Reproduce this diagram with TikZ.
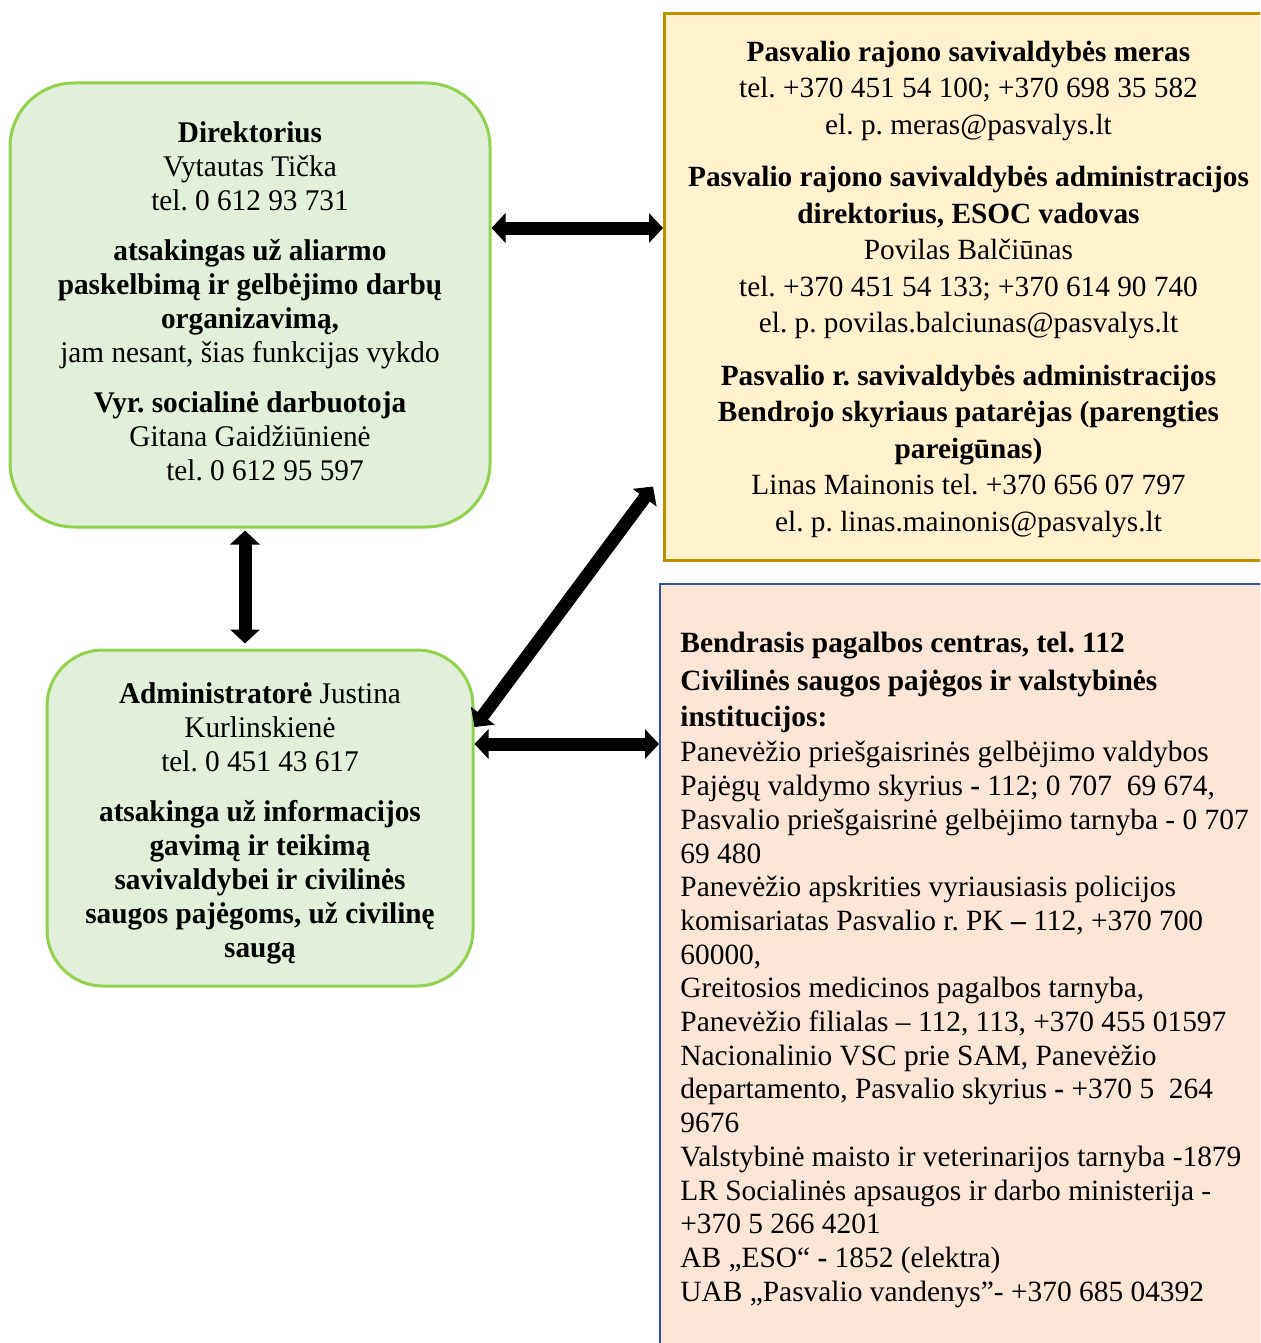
\documentclass[tikz,border=0pt]{standalone}
\usepackage{fontspec}
\setmainfont{Liberation Serif}
\newfontfamily\leftfont[FakeStretch=0.975]{Liberation Serif}
\usetikzlibrary{arrows.meta, calc}
\frenchspacing
\definecolor{greenfill}{HTML}{E2EFDA}
\definecolor{greenline}{HTML}{92D050}
\definecolor{yellowfill}{HTML}{FFF2CC}
\definecolor{yellowline}{HTML}{BF9000}
\definecolor{pinkfill}{HTML}{FBE5D6}
\definecolor{blueline}{HTML}{2F5597}
\tikzset{
  greenbox/.style={draw=greenline, fill=greenfill, line width=1.5pt, inner sep=0pt},
  yellowbox/.style={draw=yellowline, fill=yellowfill, line width=1.5pt, inner sep=0pt},
  pinkbox/.style={draw=blueline, fill=pinkfill, line width=1pt, inner sep=0pt},
  lefttext/.style={align=center, inner sep=0pt, font=\leftfont\fontsize{15}{17}\selectfont},
  righttext/.style={align=center, inner sep=0pt, font=\fontsize{14.65}{18.25}\selectfont},
  bigarrow/.style={line width=6.5pt,
    {Triangle[length=7pt,width=14.5pt]}-{Triangle[length=7pt,width=14.5pt]}},
}

\begin{document}
\begin{tikzpicture}[x=0.5pt, y=-0.5pt]
    \useasboundingbox (0,0) rectangle (1260,1343);
    \clip (0,0) rectangle (1260,1343);
    \node[greenbox, rounded corners=32pt, minimum width=240pt, minimum height=222pt] (dir) at (250,305) {};
    \node[greenbox, rounded corners=28pt, minimum width=213pt, minimum height=168pt] (adm) at (260,818) {};
    \node[yellowbox, minimum width=304pt, minimum height=273.5pt, anchor=north west] (mer) at (663,12) {};
    \node[pinkbox, minimum width=320pt, minimum height=420pt, anchor=north west] (bpc) at (659,583) {};
    \node[lefttext] (dirtext) at ([yshift=2pt]dir.center)
      {\textbf{Direktorius}\\ Vytautas Tička\\ tel. 0 612 93 731\\[8pt]
       \textbf{atsakingas už aliarmo}\\ \textbf{paskelbimą ir gelbėjimo darbų}\\ \textbf{organizavimą,}\\
       jam nesant, šias funkcijas vykdo\\[8pt]
       \textbf{Vyr. socialinė darbuotoja}\\ Gitana Gaidžiūnienė\\ \hspace*{15pt}tel. 0 612 95 597};
    \node[lefttext] (admtext) at ([yshift=-2.75pt]adm.center)
      {\textbf{Administratorė} Justina\\ Kurlinskienė\\ tel. 0 451 43 617\\[8pt]
       \textbf{atsakinga už informacijos}\\ \textbf{gavimą ir teikimą}\\ \textbf{savivaldybei ir civilinės}\\
       \textbf{saugos pajėgoms, už civilinę}\\ \textbf{saugą}};
    \node[righttext] (mertext) at ([yshift=-1pt]mer.center)
      {\textbf{Pasvalio rajono savivaldybės meras}\\ tel. +370 451 54 100; +370 698 35 582\\
       el. p. meras@pasvalys.lt\\[8pt]
       \textbf{Pasvalio rajono savivaldybės administracijos}\\ \textbf{direktorius, ESOC vadovas}\\
       Povilas Balčiūnas\\ tel. +370 451 54 133; +370 614 90 740\\ el. p. povilas.balciunas@pasvalys.lt\\[8pt]
       \textbf{Pasvalio r. savivaldybės administracijos}\\ \textbf{Bendrojo skyriaus patarėjas (parengties}\\
       \textbf{pareigūnas)}\\ Linas Mainonis tel. +370 656 07 797\\ el. p. linas.mainonis@pasvalys.lt};
    \node[anchor=north west, align=left, inner sep=0pt, font=\fontsize{14.7}{16.85}\selectfont] (bpctext) at (680,632)
      {\textbf{Bendrasis pagalbos centras, tel. 112}\\[2pt]
       \textbf{Civilinės saugos pajėgos ir valstybinės}\\[1pt]
       \textbf{institucijos:}\\[1pt]
       Panevėžio priešgaisrinės gelbėjimo valdybos\\
       Pajėgų valdymo skyrius \textbf{-} 112; 0 707\ \ 69 674,\\
       Pasvalio priešgaisrinė gelbėjimo tarnyba - 0 707\\
       69 480\\
       Panevėžio apskrities vyriausiasis policijos\\
       komisariatas Pasvalio r. PK \textbf{–} 112, +370 700\\
       60000,\\
       Greitosios medicinos pagalbos tarnyba,\\
       Panevėžio filialas – 112, 113, +370 455 01597\\
       Nacionalinio VSC prie SAM, Panevėžio\\
       departamento, Pasvalio skyrius \textbf{-} +370 5\ \ 264\\
       9676\\
       Valstybinė maisto ir veterinarijos tarnyba -1879\\
       LR Socialinės apsaugos ir darbo ministerija -\\
       +370 5 266 4201\\
       AB „ESO“ \textbf{-} 1852 (elektra)\\
       UAB „Pasvalio vandenys”- +370 685 04392};
    \coordinate (a1) at ([yshift=38.5pt]dir.east);
    \coordinate (a2) at ([xshift=-2.5pt]dir.south);
    \coordinate (a3) at ([yshift=45.5pt]adm.east);
    \coordinate (a4) at ([yshift=37pt]adm.east);
    \draw[bigarrow] (a1) -- (a1 -| mer.west);
    \draw[bigarrow, shorten <=1pt, shorten >=2.5pt] (a2) -- (a2 |- adm.north);
    \draw[bigarrow] (a3) -- ([xshift=-5pt, yshift=-99.75pt]mer.west);
    \draw[bigarrow] (a4) -- (a4 -| bpc.west);
\end{tikzpicture}
\end{document}
